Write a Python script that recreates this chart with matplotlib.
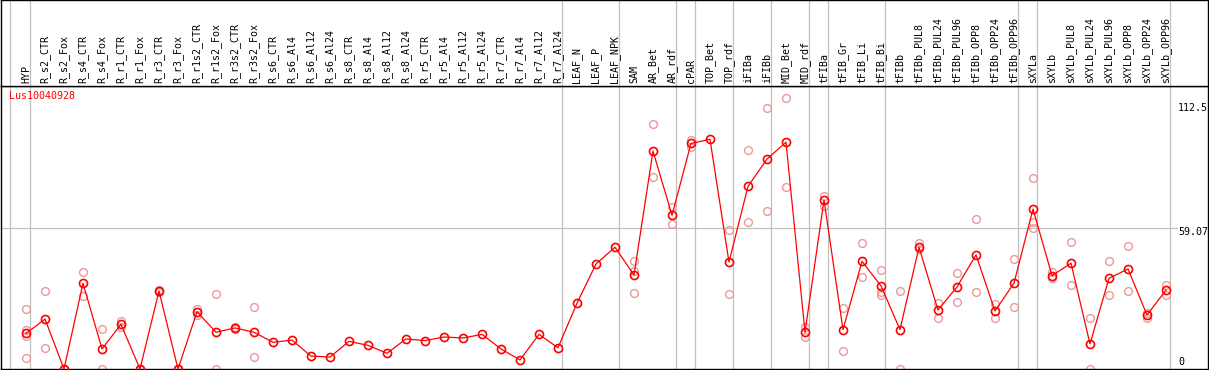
import numpy as np
import matplotlib
matplotlib.use("Agg")
import matplotlib.pyplot as plt
from matplotlib.transforms import blended_transform_factory

# sample names along the x axis
samples = ["HYP", "R_s2_CTR", "R_s2_Fox", "R_s4_CTR", "R_s4_Fox", "R_r1_CTR", "R_r1_Fox",
           "R_r3_CTR", "R_r3_Fox", "R_r1s2_CTR", "R_r1s2_Fox", "R_r3s2_CTR", "R_r3s2_Fox",
           "R_s6_CTR", "R_s6_Al4", "R_s6_Al12", "R_s6_Al24", "R_s8_CTR", "R_s8_Al4",
           "R_s8_Al12", "R_s8_Al24", "R_r5_CTR", "R_r5_Al4", "R_r5_Al12", "R_r5_Al24",
           "R_r7_CTR", "R_r7_Al4", "R_r7_Al12", "R_r7_Al24", "LEAF_N", "LEAF_P", "LEAF_NPK",
           "SAM", "AR_Bet", "AR_rdf", "cPAR", "TOP_Bet", "TOP_rdf", "iFIBa", "iFIBb",
           "MID_Bet", "MID_rdf", "tFIBa", "tFIB_Gr", "tFIB_Li", "tFIB_Bi", "tFIBb",
           "tFIBb_PUL8", "tFIBb_PUL24", "tFIBb_PUL96", "tFIBb_OPP8", "tFIBb_OPP24",
           "tFIBb_OPP96", "sXYLa", "sXYLb", "sXYLb_PUL8", "sXYLb_PUL24", "sXYLb_PUL96",
           "sXYLb_OPP8", "sXYLb_OPP24", "sXYLb_OPP96"]

# mean expression per sample
means = [14.9, 20.9, 0, 35.9, 8.4, 18.7, 0, 32.7, 0, 24.0, 15.4, 17.2, 15.4,
         11.2, 12.1, 5.4, 5.0, 11.6, 9.9, 6.6, 12.6, 11.9, 13.4, 13.0, 14.5,
         8.4, 3.8, 14.5, 8.9, 27.6, 44.0, 51.0, 39.4, 91.3, 64.4, 94.5, 96.2,
         44.8, 76.5, 88.0, 95.0, 15.4, 70.8, 16.5, 45.1, 34.8, 16.5, 51.0, 24.7,
         34.4, 47.8, 24.3, 36.0, 67.0, 39.1, 44.3, 10.5, 38.0, 41.9, 22.6, 33.1]

# individual replicates (empty where only the mean is visible)
replicates = [[25.1, 16.3, 13.8, 4.6], [32.7, 8.8], [0, 0], [40.6, 30.7], [16.8, 0],
              [20.1, 17.4], [0, 0], [33.2, 32.2], [0, 0], [25.1, 22.6], [31.3, 0],
              [17.8, 16.6], [25.8, 4.9],
              [], [], [], [], [], [], [], [], [], [], [], [], [], [], [], [], [], [], [],
              [45.1, 41.1, 31.8], [102.6, 80.3], [68.0, 60.6], [95.9, 93.1], [],
              [58.2, 31.4], [91.7, 61.6], [109.3, 66.2], [113.5, 76.1], [17.7, 13.5],
              [72.5, 68.3], [25.4, 7.5], [52.7, 38.4], [41.3, 31.0, 32.2], [32.7, 0],
              [52.9, 50.1], [27.8, 21.5], [40.2, 28.1], [62.8, 32.3], [27.4, 21.2],
              [46.1, 25.8], [80.0, 61.7, 59.1], [40.8, 38.2], [53.1, 35.2], [21.4, 0],
              [45.1, 31.0], [51.5, 32.7], [21.5, 23.5], [35.2, 31.0]]

# group boundaries: a separator is drawn just after these sample indices
group_ends = [0, 28, 31, 34, 35, 37, 39, 41, 42, 45, 52, 53, 60]

gene = "Lus10040928"
y_ticks = [112.5, 59.07, 0]

W, H = 1209, 370
fig = plt.figure(figsize=(W / 100, H / 100), dpi=100)

# pixel geometry
px_left, px_right, px_top, px_hdr, px_bot = 1, 1208, 0, 86, 369
x0, dx = 26, 19           # pixel of first sample, spacing
ppu = 2.387               # pixels per unit on y

xlim = ((px_left - x0) / dx, (px_right - x0) / dx)
ylim = (0, (px_bot - px_hdr) / ppu)

ax = fig.add_axes([px_left / W, (H - px_bot) / H, (px_right - px_left) / W, (px_bot - px_hdr) / H])
hdr = fig.add_axes([px_left / W, (H - px_hdr) / H, (px_right - px_left) / W, (px_hdr - px_top) / H])

for a in (ax, hdr):
    a.set_xlim(*xlim)
    a.set_xticks([])
    a.set_yticks([])
    for s in a.spines.values():
        s.set_color("black")
        s.set_linewidth(1.0)
ax.set_ylim(*ylim)
hdr.set_ylim(0, 1)

grey = "#c0c0c0"
seps = [(10 - x0) / dx] + [i + 0.235 for i in group_ends]
for a in (ax, hdr):
    for s in seps:
        a.axvline(s, color=grey, lw=0.9, zorder=1)
ax.plot([xlim[0], (1177 - x0) / dx], [y_ticks[1], y_ticks[1]], color=grey, lw=0.9, zorder=1)

x = np.arange(len(samples))
mono = "DejaVu Sans Mono"

rx, ry = [], []
for i, reps in enumerate(replicates):
    for v in reps:
        rx.append(i)
        ry.append(v)
ax.plot(rx, ry, ls="none", marker="o", ms=5.6, mfc="none", mec="#eb9a9a",
        mew=1.0, zorder=2, clip_on=False)
ax.plot(x, means, color="red", lw=0.9, marker="o", ms=5.8, mfc="none",
        mec="red", mew=1.2, zorder=3, clip_on=False)

# sample labels in header
trans = blended_transform_factory(hdr.transData, fig.transFigure)
for i, name in enumerate(samples):
    fig.text(i, (H - 83) / H, name, transform=trans, rotation=90, ha="center",
             va="bottom", fontsize=7.2, family=mono, color="black")

ax.text(8 / (px_right - px_left), 1 - 5 / (px_bot - px_hdr), gene, transform=ax.transAxes,
        ha="left", va="top", fontsize=7.2, family=mono, color="red")

lab_x = (1178 - x0) / dx
offs = [-7.5, -4, 7]
for v, o in zip(y_ticks, offs):
    ax.annotate(f"{v:g}", (lab_x, v), xytext=(0, o * 0.72), textcoords="offset points",
                ha="left", va="center", fontsize=7.2, family=mono, color="black",
                annotation_clip=False)

fig.savefig("out.png", dpi=100)
